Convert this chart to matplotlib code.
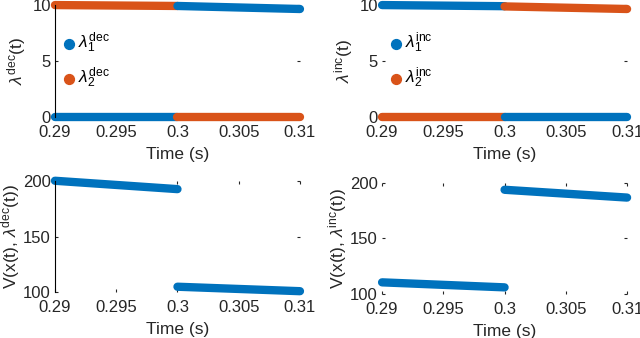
import matplotlib
matplotlib.use("Agg")
import matplotlib.pyplot as plt

plt.rcParams['font.family'] = ['Liberation Sans', 'DejaVu Sans']
plt.rcParams['mathtext.fontset'] = 'custom'
plt.rcParams['mathtext.rm'] = 'Liberation Sans'
plt.rcParams['mathtext.it'] = 'Liberation Sans:italic'

blue = '#0072BD'
orange = '#D95319'

# time segments (before / after switch)
t_pre = [0.29, 0.30]
t_post = [0.30, 0.31]

# top-left: decreasing ordering
dec_l1_pre = [0.0, 0.0]
dec_l1_post = [9.92, 9.65]
dec_l2_pre = [10.0, 9.92]
dec_l2_post = [0.0, 0.0]

# top-right: increasing ordering
inc_l1_pre = [10.0, 9.9]
inc_l1_post = [0.0, 0.0]
inc_l2_pre = [0.0, 0.0]
inc_l2_post = [9.88, 9.65]

# bottom: Lyapunov values
V_dec_pre = [200.0, 192.5]
V_dec_post = [105.0, 101.0]
V_inc_pre = [110.5, 106.0]
V_inc_post = [193.5, 186.5]

xticks = [0.29, 0.295, 0.3, 0.305, 0.31]
xticklabels = ['0.29', '0.295', '0.3', '0.305', '0.31']

fig = plt.figure(figsize=(6.4, 3.38), dpi=100)

lw = 6
fs_tick = 12
fs_lab = 12.5


def style(ax, ylim, yticks, left_spine):
    ax.set_xlim(0.29, 0.31)
    ax.set_ylim(*ylim)
    ax.set_xticks(xticks)
    ax.set_xticklabels(xticklabels)
    ax.set_yticks(yticks)
    for s in ['top', 'right', 'bottom']:
        ax.spines[s].set_visible(False)
    ax.spines['left'].set_visible(left_spine)
    ax.tick_params(direction='in', length=2, width=0.8, top=True, right=True,
                   labelsize=fs_tick, colors='#262626')
    ax.tick_params(axis='x', pad=5.5)
    ax.tick_params(axis='y', pad=3)
    ax.set_xlabel('Time (s)', fontsize=fs_lab, labelpad=5, color='#262626')
    ax.patch.set_alpha(0)


def seg(ax, t, y, c):
    ax.plot(t, y, color=c, lw=lw, solid_capstyle='round', clip_on=False)


def leg(ax, labels):
    hs = [ax.scatter([], [], color=c, s=50, label=l) for c, l in zip([blue, orange], labels)]
    ax.legend(handles=hs, loc='upper left', bbox_to_anchor=(-0.005, 0.83),
              frameon=False, fontsize=fs_lab, handletextpad=0.1, labelspacing=0.6,
              borderaxespad=0.2, borderpad=0.2, handlelength=0.9)


ax1 = fig.add_axes([0.0859, 0.653, 0.3828, 0.332])
seg(ax1, t_pre, dec_l2_pre, orange)
seg(ax1, t_pre, dec_l1_pre, blue)
seg(ax1, t_post, dec_l1_post, blue)
seg(ax1, t_post, dec_l2_post, orange)
style(ax1, (0, 10), [0, 5, 10], True)
ax1.set_ylabel(r'$\lambda^{\rm dec}$(t)', fontsize=fs_lab, labelpad=3, color='#262626')
leg(ax1, [r'$\lambda_1^{\rm dec}$', r'$\lambda_2^{\rm dec}$'])

ax2 = fig.add_axes([0.597, 0.653, 0.3828, 0.332])
seg(ax2, t_pre, inc_l1_pre, blue)
seg(ax2, t_pre, inc_l2_pre, orange)
seg(ax2, t_post, inc_l2_post, orange)
seg(ax2, t_post, inc_l1_post, blue)
style(ax2, (0, 10), [0, 5, 10], False)
ax2.set_ylabel(r'$\lambda^{\rm inc}$(t)', fontsize=fs_lab, labelpad=3, color='#262626')
leg(ax2, [r'$\lambda_1^{\rm inc}$', r'$\lambda_2^{\rm inc}$'])

ax3 = fig.add_axes([0.0859, 0.1352, 0.3828, 0.330])
seg(ax3, t_pre, V_dec_pre, blue)
seg(ax3, t_post, V_dec_post, blue)
style(ax3, (100, 200), [100, 150, 200], True)
ax3.set_ylabel(r'V(x(t), $\lambda^{\rm dec}$(t))', fontsize=fs_lab, labelpad=1, color='#262626')

ax4 = fig.add_axes([0.597, 0.130, 0.3828, 0.330])
seg(ax4, t_pre, V_inc_pre, blue)
seg(ax4, t_post, V_inc_post, blue)
style(ax4, (100, 200), [100, 150, 200], False)
ax4.set_ylabel(r'V(x(t), $\lambda^{\rm inc}$(t))', fontsize=fs_lab, labelpad=1, color='#262626')

fig.savefig('out.png', dpi=100)
